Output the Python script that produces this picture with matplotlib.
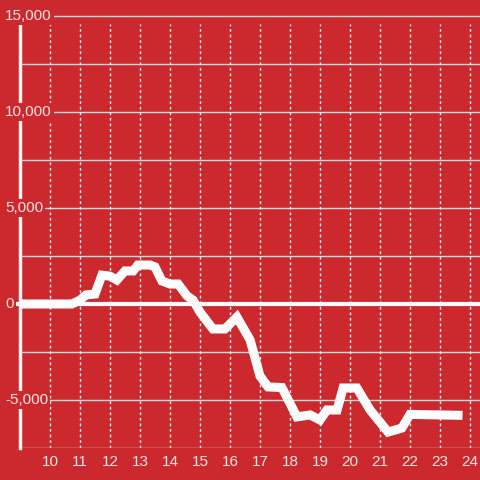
import numpy as np
import matplotlib.pyplot as plt
import matplotlib.transforms as mtransforms

plt.rcParams['font.family'] = ['Liberation Sans', 'DejaVu Sans']

## data (hour of day, value)
hours = [9.0, 10.73, 11.0, 11.2, 11.5, 11.73, 12.0, 12.23, 12.5, 12.77, 12.93, 13.33,
         13.5, 13.73, 14.0, 14.27, 14.57, 14.77, 15.0, 15.43, 15.83, 16.23, 16.67,
         17.0, 17.27, 17.73, 18.23, 18.67, 19.0, 19.23, 19.57, 19.77, 20.23, 20.67,
         21.27, 21.73, 22.0, 23.75]
values = [0, 0, 200, 470, 520, 1500, 1450, 1250, 1720, 1720, 2030, 2030,
          1930, 1200, 1040, 1040, 420, 200, -420, -1300, -1300, -680, -1870,
          -3750, -4320, -4350, -5880, -5780, -6040, -5520, -5520, -4375, -4375, -5520,
          -6670, -6460, -5750, -5800]

xticks = list(range(10, 25))
yticks = [15000, 10000, 5000, 0, -5000]
ygrid = [15000, 12500, 10000, 7500, 5000, 2500, -2500, -5000, -7500]

bg = "#cc292e"
txt = "#f3e4e4"

fig = plt.figure(figsize=(4.8, 4.8), dpi=100, facecolor=bg)
ax = fig.add_axes([20/480, 32/480, 460/480, 448/480])
ax.set_facecolor(bg)

ymin, ymax = -7500, 15833
ax.set_xlim(9, 24.333)
ax.set_ylim(ymin, ymax)

# grid
ax.hlines(ygrid, 9, 24.333, color="#d8d8d8", lw=1, zorder=1)
ax.vlines(xticks, ymin, 14580, color="#eeeeee", lw=1, linestyles=(0, (2, 2)), zorder=1)
ax.axhline(0, xmin=-3/460, color="white", lw=3, zorder=2, clip_on=False)

# left axis line
for s in ["top", "right", "bottom"]:
    ax.spines[s].set_visible(False)
ax.spines["left"].set_color("#f2f2f2")
ax.spines["left"].set_linewidth(2.5)
ax.spines["left"].set_bounds(ymin, 14580)
ax.spines["left"].set_zorder(3)

# series
ax.plot(hours, values, color="white", lw=6.5, solid_joinstyle="miter",
        solid_capstyle="butt", zorder=4)

# x ticks
ax.set_xticks(xticks)
ax.set_xticklabels([str(h) for h in xticks], color=txt, fontsize=11)
ax.tick_params(axis="x", length=0, pad=5)
ax.set_yticks([])

# y labels with background boxes
trans = mtransforms.blended_transform_factory(fig.transFigure, ax.transData)
for v in yticks:
    ax.text(5/480, v, f"{v:,}", transform=trans, ha="left", va="center",
            fontsize=11, color=txt, zorder=6,
            bbox=dict(facecolor=bg, edgecolor="none", pad=1.5))

plt.savefig("out.png", dpi=100, facecolor=bg)
